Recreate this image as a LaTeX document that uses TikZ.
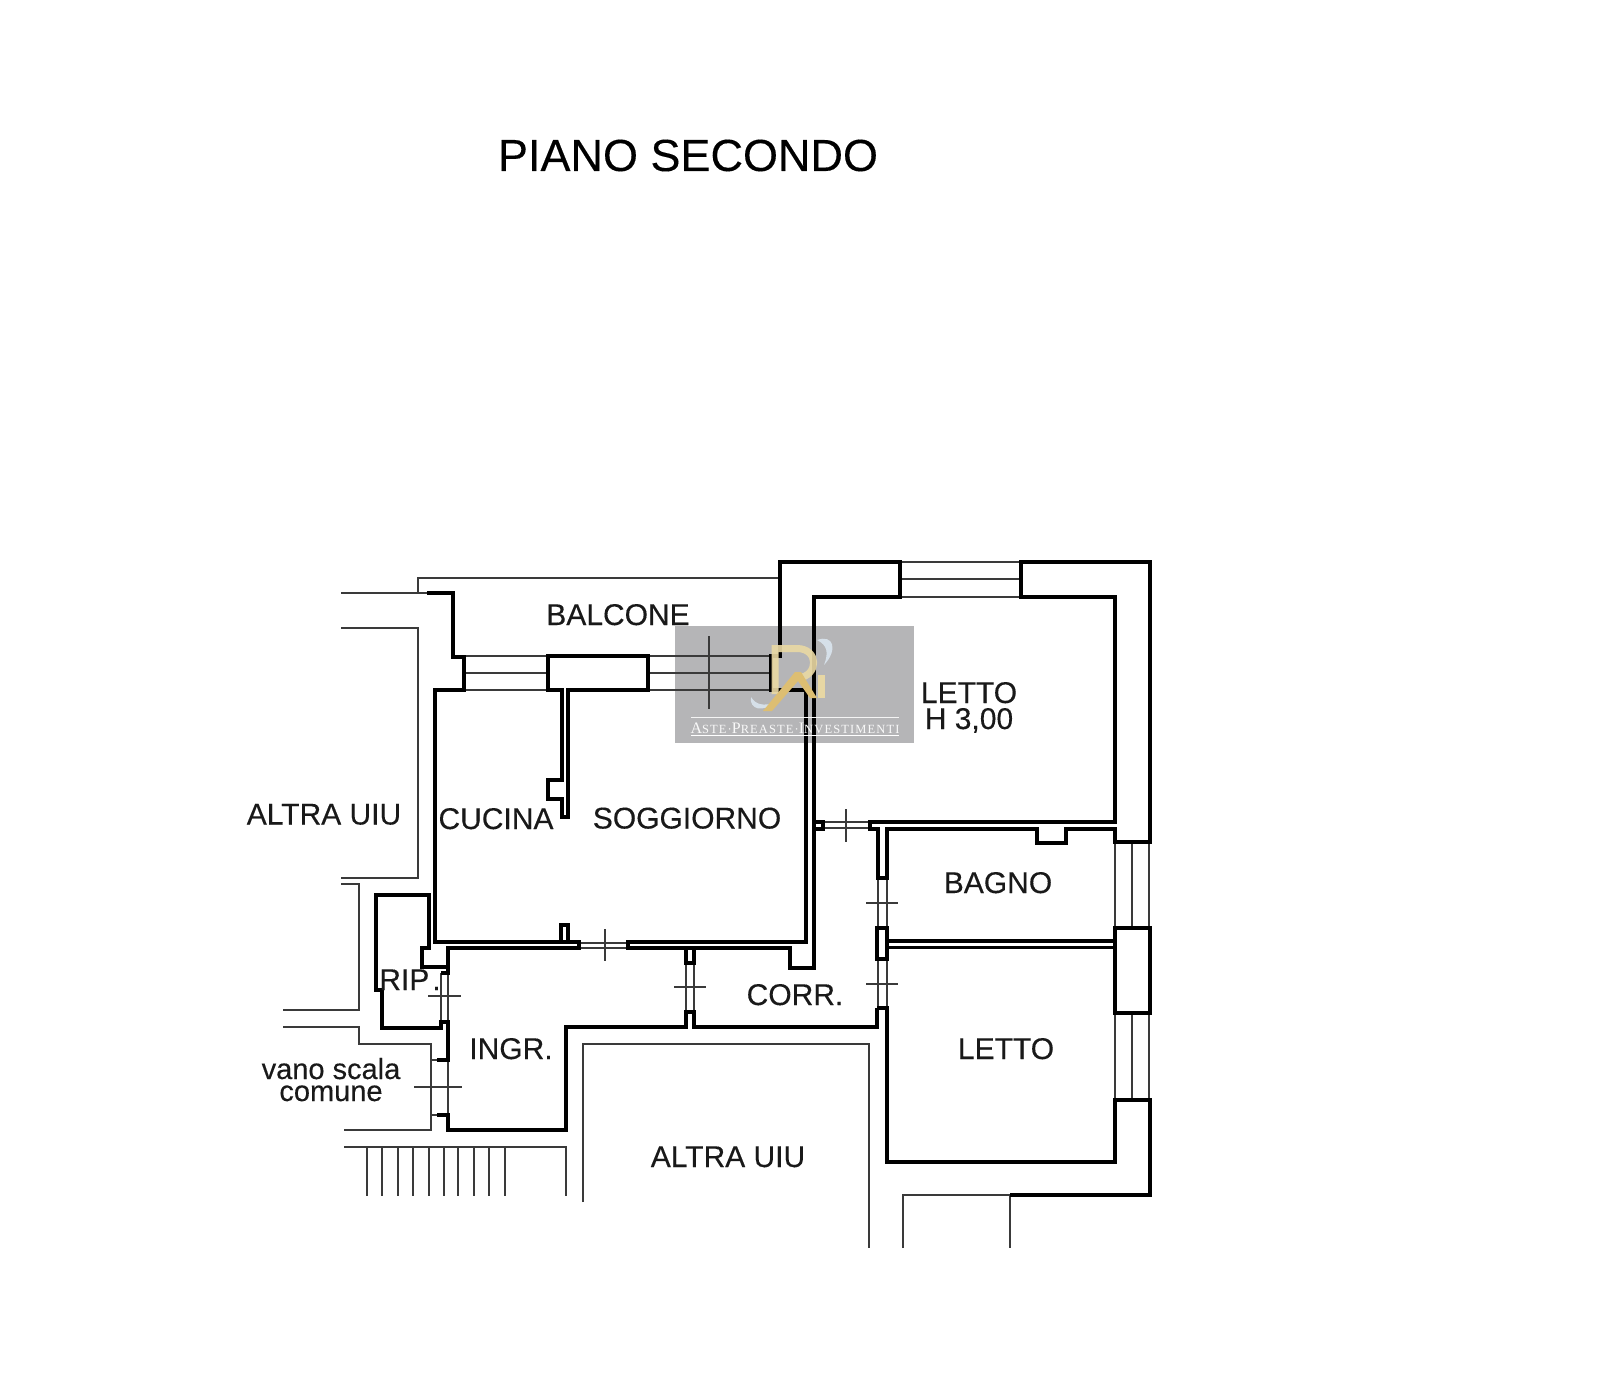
\documentclass[tikz,border=0pt]{standalone}
\usepackage{fontspec}
\setmainfont[FakeBold=0.25]{Liberation Sans}
\newfontfamily\wmfont[LetterSpace=9]{Liberation Serif}
\definecolor{wmgray}{HTML}{B5B5B7}
\definecolor{gold}{HTML}{DDBE72}
\definecolor{goldlt}{HTML}{EAD9A4}
\definecolor{swirl}{HTML}{DCE8F2}
\definecolor{thinc}{HTML}{3A3A3A}
\tikzset{
  wall/.style={draw=black,line width=3.5pt,line join=miter,line cap=square},
  thinline/.style={draw=thinc,line width=1.5pt},
  lbl/.style={anchor=base,inner sep=0pt,font=\fontsize{30}{32}\selectfont,text=black!90},
  small/.style={anchor=base,inner sep=0pt,font=\fontsize{29}{30}\selectfont,text=black!90}
}
\begin{document}
\begin{tikzpicture}[x=1pt,y=-1pt]
\useasboundingbox (0,0) rectangle (1600,1375);
\fill[white] (0,0) rectangle (1600,1375);
% watermark panel
\fill[wmgray] (675,626) rectangle (914,743);
% thin lines: neighbours
\draw[thinline] (341,593)--(427,593);
\draw[thinline] (418,593)--(418,578)--(780,578);
\draw[thinline] (341,628)--(418,628)--(418,878)--(341,878);
\draw[thinline] (341,884)--(359,884)--(359,1010)--(283,1010);
\draw[thinline] (283,1027)--(359,1027)--(359,1044)--(431,1044)--(431,1130)--(344,1130);
\draw[thinline] (431,1060)--(437,1060) (431,1115)--(437,1115);
\draw[thinline] (344,1147)--(566,1147)--(566,1196);
\foreach \sx in {367,382,398,413,429,444,458,474,489,505}{\draw[thinline] (\sx,1147)--(\sx,1196);}
\draw[thinline] (583,1202)--(583,1044)--(869,1044)--(869,1248);
\draw[thinline] (903,1248)--(903,1195)--(1010,1195)--(1010,1248);
% windows
\foreach \wy in {656,673,690}{\draw[thinline] (464,\wy)--(548,\wy) (648,\wy)--(771,\wy);}
\draw[thinline] (709,636)--(709,709);
\foreach \wy in {562,579,597}{\draw[thinline] (900,\wy)--(1021,\wy);}
\foreach \wx in {1115,1132,1149}{\draw[thinline] (\wx,842)--(\wx,928) (\wx,1013)--(\wx,1100);}
% doors
\draw[thinline] (579,943)--(628,943) (579,948)--(628,948) (605,929)--(605,961);
\draw[thinline] (823,822)--(870,822) (823,828)--(870,828) (846,809)--(846,842);
\draw[thinline] (878,878)--(878,928) (887,878)--(887,928) (866,903)--(898,903);
\draw[thinline] (878,959)--(878,1008) (887,959)--(887,1008) (866,984)--(898,984);
\draw[thinline] (686,963)--(686,1012) (694,963)--(694,1012) (674,987)--(706,987);
\draw[thinline] (441,973)--(441,1022) (448,973)--(448,1022) (428,996)--(461,996);
\draw[thinline] (448,1060)--(448,1115) (414,1087)--(462,1087);
% walls
\draw[wall] (427,593)--(453,593)--(453,657)--(464,657)--(464,690)--(435,690)--(435,942)--(579,942)--(579,948)--(448,948)--(448,973)--(441,973);
\draw[wall] (548,656)--(648,656)--(648,690)--(568,690)--(568,817)--(562,817)--(562,799)--(548,799)--(548,780)--(562,780)--(562,690)--(548,690)--cycle;
\draw[wall] (561,942)--(561,925)--(568,925)--(568,942);
\draw[wall] (628,942)--(806,942)--(806,690)--(771,690)--(771,656)--(780,656)--(780,562)--(900,562)--(900,597)--(814,597)--(814,968)--(790,968)--(790,948)--(628,948)--cycle;
\draw[wall] (814,822)--(823,822)--(823,829)--(814,829);
\draw[wall] (1021,562)--(1150,562)--(1150,842)--(1115,842)--(1115,829)--(1066,829)--(1066,843)--(1037,843)--(1037,829)--(887,829)--(887,878)--(878,878)--(878,829)--(870,829)--(870,822)--(1115,822)--(1115,597)--(1021,597)--cycle;
\draw[wall] (877,928)--(887,928)--(887,959)--(877,959)--cycle;
\draw[wall] (887,941)--(1115,941) (887,947.5)--(1115,947.5);
\draw[wall] (1115,928)--(1150,928)--(1150,1013)--(1115,1013)--cycle;
\draw[wall] (877,1008)--(887,1008)--(887,1162)--(1115,1162)--(1115,1100)--(1150,1100)--(1150,1195)--(1010,1195);
\draw[wall] (877,1008)--(877,1027)--(694,1027)--(694,1012)--(686,1012)--(686,1027)--(566,1027)--(566,1130)--(448,1130)--(448,1115)--(437,1115);
\draw[wall] (686,948)--(686,963)--(694,963)--(694,948);
\draw[wall] (437,1060)--(448,1060)--(448,1022)--(441,1022)--(441,1028)--(382,1028)--(382,990)--(376,990)--(376,895)--(429,895)--(429,948)--(422,948)--(422,967)--(448,967);
% watermark logo
\fill[swirl,opacity=.85] (817,640) .. controls (834,634) and (838,650) .. (824,665) .. controls (829,652) and (827,645) .. (817,640)--cycle;
\fill[swirl,opacity=.85] (751,697) .. controls (749,710) and (763,712) .. (775,703) .. controls (763,706) and (756,705) .. (751,697)--cycle;
\draw[goldlt,line width=7pt,opacity=.9] (775,694)--(775,648.5)--(797,648.5) .. controls (819,648.5) and (819,676) .. (798,678);
\fill[gold] (763,711)--(795,672)--(801,672)--(817,698)--(810,698)--(798,681)--(772,711)--cycle;
\fill[goldlt,opacity=.95] (818,675) rectangle (825,698);
\draw[white!85!wmgray,line width=.8pt] (691,717)--(899,717);
\draw[white,line width=1pt] (691,735)--(899,735);
\node[anchor=base,inner sep=0pt,text=white!92!wmgray] (wm) at (795,733) {\wmfont\fontsize{16}{18}\selectfont A\fontsize{12.5}{18}\selectfont STE·\fontsize{16}{18}\selectfont P\fontsize{12.5}{18}\selectfont REASTE·\fontsize{16}{18}\selectfont I\fontsize{12.5}{18}\selectfont NVESTIMENTI};
% labels
\node[anchor=base,inner sep=0pt,font=\fontsize{45}{50}\selectfont,text=black] (title) at (688,171) {PIANO SECONDO};
\node[lbl] (balcone) at (618,625) {BALCONE};
\node[lbl] (altra1) at (324,824.5) {ALTRA UIU};
\node[lbl] (cucina) at (496,829) {CUCINA};
\node[lbl] (soggiorno) at (687,828.5) {SOGGIORNO};
\node[lbl] (letto1) at (969,703) {LETTO};
\node[lbl] (h3) at (969,729) {H 3,00};
\node[lbl] (bagno) at (998,893) {BAGNO};
\node[lbl] (rip) at (410,990) {RIP\kern3pt.};
\node[lbl] (ingr) at (511,1059) {INGR.};
\node[lbl] (corr) at (795,1005) {CORR.};
\node[lbl] (letto2) at (1006,1059) {LETTO};
\node[lbl] (altra2) at (728,1167) {ALTRA UIU};
\node[small] (vano) at (331,1079) {vano scala};
\node[small] (comune) at (331,1101) {comune};
\end{tikzpicture}
\end{document}
